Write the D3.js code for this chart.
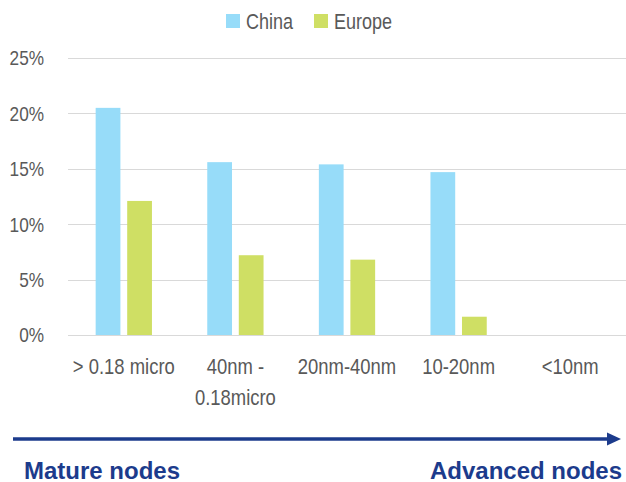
<!DOCTYPE html>
<html>
<head>
<meta charset="utf-8">
<script src="https://cdn.jsdelivr.net/npm/d3@7"></script>
<style>
  html, body { margin: 0; padding: 0; background: #ffffff; }
  svg { display: block; }
  .lbl { font-family: "Liberation Sans", Arial, sans-serif; fill: #595959; }
  .nodes { font-family: "Liberation Sans", Arial, sans-serif; font-weight: bold; fill: #1c3b8c; }
</style>
</head>
<body>
<svg id="chart" width="626" height="482"></svg>
<script>
// Node categories, from mature to advanced
const categories = ["> 0.18 micro", "40nm - 0.18micro", "20nm-40nm", "10-20nm", "<10nm"];
const categoryLines = [["> 0.18 micro"], ["40nm -", "0.18micro"], ["20nm-40nm"], ["10-20nm"], ["<10nm"]];
const seriesNames = ["China", "Europe"];
const chinaValues = [0.205, 0.156, 0.154, 0.147, 0];
const europeValues = [0.121, 0.072, 0.068, 0.0165, 0];
const yTicks = [0, 0.05, 0.10, 0.15, 0.20, 0.25];
const arrowLabels = ["Mature nodes", "Advanced nodes"];

const colors = { China: "#97dcf9", Europe: "#cfdf64" };
const NARROW = 0.82; // horizontal squeeze for the condensed label face

const svg = d3.select("#chart");

const x0 = d3.scaleBand().domain(categories).range([68, 626]).paddingInner(0).paddingOuter(0);
const x1 = d3.scaleBand().domain(seriesNames).range([0, x0.bandwidth()])
  .paddingInner(0.215).paddingOuter(0.877);
const y = d3.scaleLinear().domain([0, 0.25]).range([335, 58]);

// Draws a condensed label anchored at (x, y)
function narrowText(parent, x, yPos, size, anchor) {
  return parent.append("text")
    .attr("class", "lbl")
    .attr("font-size", size)
    .attr("text-anchor", anchor)
    .attr("transform", `translate(${x},${yPos}) scale(${NARROW},1)`);
}

// Horizontal gridlines
svg.append("g").selectAll("line").data(yTicks).join("line")
  .attr("x1", 68).attr("x2", 626)
  .attr("y1", d => Math.round(y(d)) + 0.5).attr("y2", d => Math.round(y(d)) + 0.5)
  .attr("stroke", "#d9d9d9").attr("stroke-width", 1.2);

// Y axis labels
const pct = d3.format(".0%");
const yg = svg.append("g");
yTicks.forEach(t => {
  narrowText(yg, 44, y(t), 21, "end").attr("dy", "0.35em").text(pct(t));
});

// Bars
const rows = categories.map((c, i) => ({ cat: c, China: chinaValues[i], Europe: europeValues[i] }));
const groups = svg.append("g").selectAll("g").data(rows).join("g")
  .attr("transform", d => `translate(${x0(d.cat)},0)`);
groups.selectAll("rect")
  .data(d => seriesNames.map(s => ({ s, v: d[s] })).filter(e => e.v > 0))
  .join("rect")
  .attr("x", d => x1(d.s))
  .attr("width", x1.bandwidth())
  .attr("y", d => y(d.v))
  .attr("height", d => y(0) - y(d.v))
  .attr("fill", d => colors[d.s]);

// Category labels
const xg = svg.append("g");
categories.forEach((c, i) => {
  const t = narrowText(xg, x0(c) + x0.bandwidth() / 2, 374, 22.5, "middle");
  categoryLines[i].forEach((line, k) => {
    t.append("tspan").attr("x", 0).attr("dy", k === 0 ? 0 : 31).text(line);
  });
});

// Legend
const legendX = [226, 314];
seriesNames.forEach((s, i) => {
  svg.append("rect").attr("x", legendX[i]).attr("y", 14)
    .attr("width", 14).attr("height", 14).attr("fill", colors[s]);
  narrowText(svg, legendX[i] + 20, 28.5, 22, "start").text(s);
});

// Maturity arrow
svg.append("line").attr("x1", 13).attr("x2", 609).attr("y1", 439).attr("y2", 439)
  .attr("stroke", "#1c3b8c").attr("stroke-width", 3.5);
svg.append("path").attr("d", "M607,432.5 L621,439 L607,445.5 Z").attr("fill", "#1c3b8c");

svg.append("text").attr("class", "nodes").attr("font-size", 24)
  .attr("x", 24).attr("y", 478.5).text(arrowLabels[0]);
svg.append("text").attr("class", "nodes").attr("font-size", 24)
  .attr("text-anchor", "end").attr("x", 622).attr("y", 478.5).text(arrowLabels[1]);
</script>
</body>
</html>
